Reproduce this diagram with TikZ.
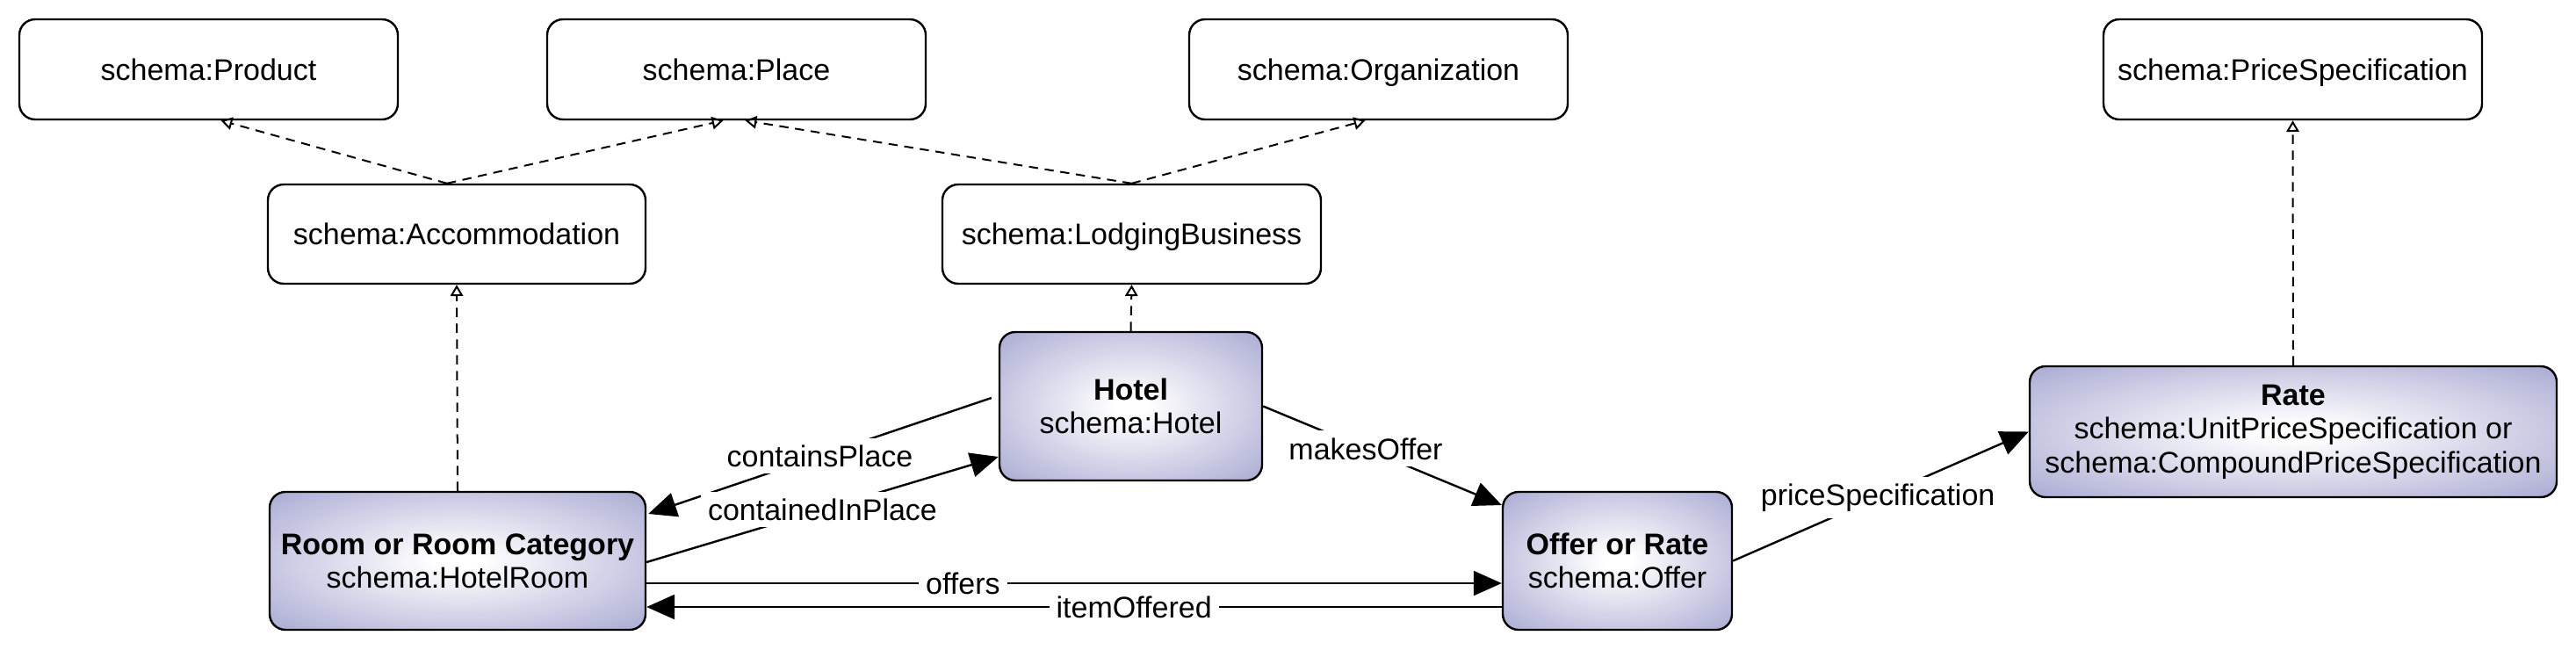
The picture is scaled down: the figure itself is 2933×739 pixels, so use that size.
\documentclass[tikz,border=0pt]{standalone}
\usepackage{fontspec}
\setmainfont{Liberation Sans}
\usetikzlibrary{arrows.meta,calc}
\definecolor{lav}{RGB}{164,164,208}
\pgfdeclareradialshading{boxshade}{\pgfpoint{0bp}{0bp}}{color(0bp)=(white); color(3bp)=(white); color(38bp)=(lav); color(72bp)=(lav)}
\begin{document}
\begin{tikzpicture}[x=0.25pt,y=-0.25pt,
  font=\fontsize{8.5pt}{9.6pt}\selectfont,
  cls/.style={draw, line width=0.6pt, rounded corners=4.5pt, fill=white, align=center, inner sep=0pt, minimum height=28.5pt, minimum width=107.75pt, text height=6.2pt, text depth=0pt},
  mainbox/.style={draw, line width=0.6pt, rounded corners=4.5pt, shade, shading=boxshade, align=center, inner sep=0pt},
  gen/.style={draw, line width=0.5pt, dash pattern=on 2.6pt off 1.9pt, -{Triangle[open,length=3.2pt,width=3.6pt]}},
  rel/.style={draw, line width=0.6pt, -{Triangle[length=8pt,width=7pt]}},
  lbl/.style={fill=white, inner sep=2pt}]
\useasboundingbox (0,0) rectangle (2933,739);

% superclass boxes
\node[cls] (product) at (237.5,79) {schema:Product};
\node[cls] (place) at (838.5,79) {schema:Place};
\node[cls] (org) at (1569.5,79) {schema:Organization};
\node[cls] (pricespec) at (2610.5,79) {schema:PriceSpecification};
\node[cls, minimum width=107.5pt, minimum height=28.25pt] (accom) at (520,266.5) {schema:Accommodation};
\node[cls, minimum width=107.75pt, minimum height=28.25pt] (lodging) at (1288.5,266.5) {schema:LodgingBusiness};

% main classes
\node[mainbox, minimum width=74.75pt, minimum height=42.25pt] (hotel) at (1287.5,462.5) {\textbf{Hotel}\\schema:Hotel};
\node[mainbox, minimum width=107pt, minimum height=39.25pt] (room) at (521,638.5) {\textbf{Room or Room Category}\\schema:HotelRoom};
\node[mainbox, minimum width=65.25pt, minimum height=39.25pt] (offer) at (1841.5,638.5) {\textbf{Offer or Rate}\\schema:Offer};
\node[mainbox, minimum width=150pt, minimum height=37.25pt] (rate) at (2611,491.5) {\textbf{Rate}\\schema:UnitPriceSpecification or\\schema:CompoundPriceSpecification};

% generalizations
\draw[gen] ($(accom.north)+(-11,0)$) -- ($(product.south)+(14,0)$);
\draw[gen] ($(accom.north)+(-11,0)$) -- ($(place.south)+(-15,0)$);
\draw[gen] (lodging.north) -- ($(place.south)+(10,0)$);
\draw[gen] (lodging.north) -- ($(org.south)+(-15,0)$);
\draw[gen] (room.north) -- (accom.south);
\draw[gen] (hotel.north) -- (lodging.south);
\draw[gen] (rate.north) -- (pricespec.south);

% relations
\draw[rel] ($(hotel.west)+(-8,-9.5)$) -- node[lbl, pos=0.5] {containsPlace} ($(room.east)+(2,-53.5)$);
\draw[rel] ($(room.east)+(0,1.5)$) -- node[lbl, pos=0.5] {containedInPlace} ($(hotel.west)+(0,57.5)$);
\draw[rel] (hotel.east) -- node[lbl, pos=0.43] {makesOffer} ($(offer.west)+(0,-63.5)$);
\draw[rel] ($(room.east)+(0,25.5)$) -- node[lbl, pos=0.37] {offers} ($(offer.west)+(0,25.5)$);
\draw[rel] ($(offer.west)+(0,52.5)$) -- node[lbl, pos=0.43] {itemOffered} ($(room.east)+(0,52.5)$);
\draw[rel] (offer.east) -- node[lbl, pos=0.49] {priceSpecification} (rate.west);
\end{tikzpicture}
\end{document}
